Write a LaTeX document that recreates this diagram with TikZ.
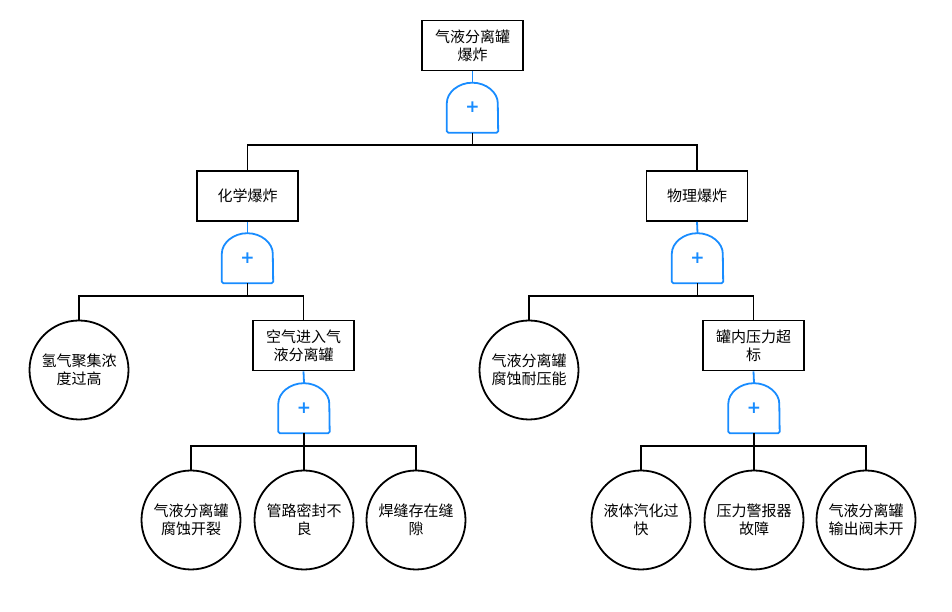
\documentclass[tikz,border=0pt]{standalone}
\usepackage{fontspec}
\newfontfamily\cjk{Noto Sans CJK SC}
\newfontfamily\plusfont{DejaVu Sans}
\definecolor{gateblue}{RGB}{24,140,255}

\begin{document}
\begin{tikzpicture}[x=1pt,y=1pt,
  event/.style={draw, line width=1.8pt, minimum width=101pt, minimum height=50pt, inner sep=0pt,
    align=center, font=\cjk\fontsize{15}{18}\selectfont},
  basic/.style={draw, circle, line width=1.8pt, minimum size=99pt, inner sep=0pt,
    align=center, font=\cjk\fontsize{15}{18}\selectfont},
  gate/.style={minimum width=51pt, minimum height=50pt, inner sep=0pt, text=gateblue,
    font=\plusfont\bfseries\fontsize{17}{17}\selectfont},
  gateline/.style={draw=gateblue, line width=1.8pt, rounded corners=1.5pt},
  stem/.style={draw=gateblue, line width=1.8pt},
  link/.style={line width=1.8pt}]

\useasboundingbox (0,0) rectangle (952,612);

% events
\node[event] (top) at (472.5,566.5) {气液分离罐\\爆炸};
\node[event] (chem) at (247.5,416) {化学爆炸};
\node[event] (phys) at (697,416) {物理爆炸};
\node[event] (air) at (303.5,266.5) {空气进入气\\液分离罐};
\node[event] (press) at (753.5,266.5) {罐内压力超\\标};

% basic events
\node[basic] (h2) at (79,242) {氢气聚集浓\\度过高};
\node[basic] (corr) at (529,242) {气液分离罐\\腐蚀耐压能};
\node[basic] (crack) at (191,92) {气液分离罐\\腐蚀开裂};
\node[basic] (seal) at (304,92) {管路密封不\\良};
\node[basic] (weld) at (416,92) {焊缝存在缝\\隙};
\node[basic] (vapor) at (641,92) {液体汽化过\\快};
\node[basic] (alarm) at (754,92) {压力警报器\\故障};
\node[basic] (valve) at (866,92) {气液分离罐\\输出阀未开};

% or gates
\node[gate] (gTop) at (472.5,504.5) {+};
\node[gate] (gChem) at (247.5,354) {+};
\node[gate] (gPhys) at (697.5,354) {+};
\node[gate] (gAir) at (304,204) {+};
\node[gate] (gPress) at (754,204) {+};

\foreach \g in {gTop,gChem,gPhys,gAir,gPress}{
  \draw[gateline] (\g.south west) -- ++(0,28) arc[start angle=180, end angle=0, x radius=25.5, y radius=22]
    -- (\g.south east) -- cycle;
}

% stems
\foreach \e/\g in {top/gTop,chem/gChem,phys/gPhys,air/gAir,press/gPress}{
  \draw[stem] (\e.south) -- (\g.north);
}

% branches
\foreach \g/\c in {gTop/chem,gTop/phys,gChem/h2,gChem/air,gPhys/corr,gPhys/press,
    gAir/crack,gAir/seal,gAir/weld,gPress/vapor,gPress/alarm,gPress/valve}{
  \draw[link] (\g.south) -- ++(0,-12.5) -| (\c.north);
}
\end{tikzpicture}
\end{document}
